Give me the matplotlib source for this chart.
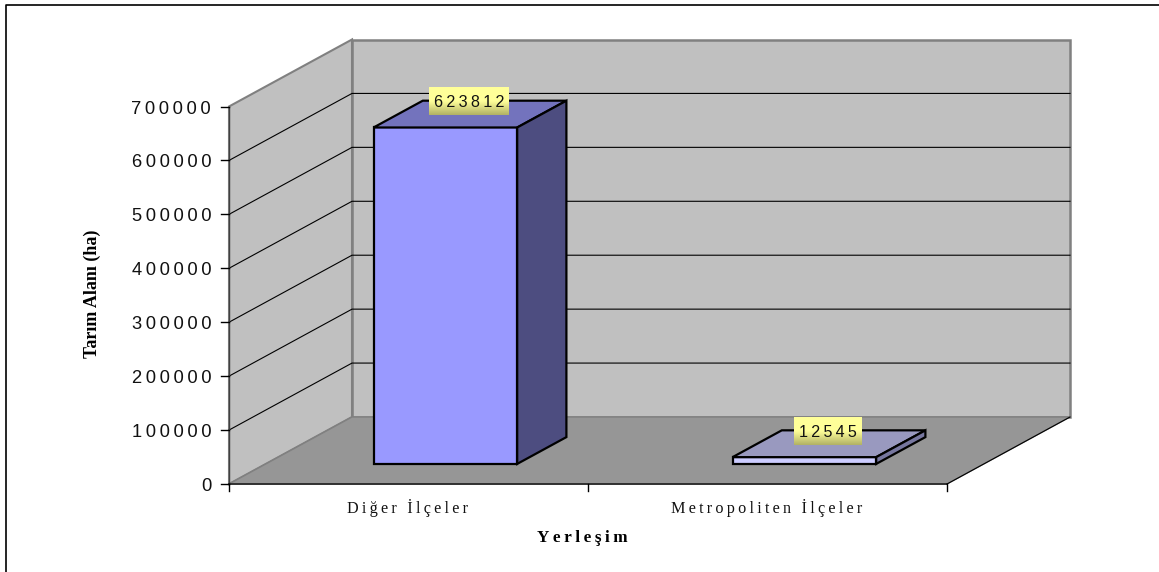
import numpy as np
import matplotlib
matplotlib.use('Agg')
import matplotlib.pyplot as plt
from matplotlib.colors import LinearSegmentedColormap
from matplotlib.patches import Polygon

categories = ['Diğer İlçeler', 'Metropoliten İlçeler']
values = [623812, 12545]
y_ticks = [0, 100000, 200000, 300000, 400000, 500000, 600000, 700000]

# oblique projection, all in image pixels
X0, Y0 = 229, 484
CAT_W = 359
Y_TOP = 377.5
DX, DY = 123, -67
YMAX = 700000
BAR_W = 0.4
D1, D2 = 0.3, 0.7


def proj(cat, val, depth):
    return (X0 + cat * CAT_W + depth * DX, Y0 - val / YMAX * Y_TOP + depth * DY)


def spaced(s, sp='\u2009'):
    return sp.join(s)


def face(ax, pts, color, ec='none', lw=0, z=2):
    ax.add_patch(Polygon(pts, closed=True, facecolor=color, edgecolor=ec, linewidth=lw,
                         joinstyle='miter', zorder=z))


fig = plt.figure(figsize=(11.59, 5.72), dpi=100)
ax = fig.add_axes([0, 0, 1, 1])
ax.set_xlim(0, 1159)
ax.set_ylim(572, 0)
ax.axis('off')

# outer frame, only left and top show
ax.plot([6, 6, 1159], [572, 5, 5], color='black', lw=1.2, zorder=1)

# walls and floor
face(ax, [proj(0, 0, 1), proj(2, 0, 1), proj(2, YMAX, 1), proj(0, YMAX, 1)], '#C0C0C0', '#808080', 1.8)
face(ax, [proj(0, 0, 0), proj(0, 0, 1), proj(0, YMAX, 1), proj(0, YMAX, 0)], '#C0C0C0', '#808080', 1.5)
face(ax, [proj(0, 0, 0), proj(2, 0, 0), proj(2, 0, 1), proj(0, 0, 1)], '#969696', '#808080', 1)

# gridlines on both walls
for t in y_ticks[1:-1]:
    pts = [proj(0, t, 0), proj(0, t, 1), proj(2, t, 1)]
    ax.plot([p[0] for p in pts], [p[1] for p in pts], color='black', lw=0.8, zorder=2)

# axes and ticks
ax.plot(*zip(proj(0, 0, 0), proj(0, YMAX, 0)), color='#404040', lw=1, zorder=3)
ax.plot(*zip(proj(0, 0, 0), proj(2, 0, 0)), color='#202020', lw=1.2, zorder=3)
ax.plot(*zip(proj(2, 0, 0), proj(2, 0, 1)), color='black', lw=0.8, zorder=3)
for t in y_ticks:
    x, y = proj(0, t, 0)
    ax.plot([x - 8, x], [y, y], color='black', lw=1, zorder=3)
    ax.text(211, y + 0.5, spaced(str(t)), ha='right', va='center_baseline',
            fontsize=13.2, family='Liberation Sans', color='#111111')
for c in range(3):
    x, y = proj(c, 0, 0)
    ax.plot([x, x], [y, y + 7], color='black', lw=1, zorder=3)

# bars
fills = [('#9999FF', '#7373BD', '#4D4D80'), ('#CCCCFF', '#9999BF', '#77779F')]
gold = LinearSegmentedColormap.from_list('gold', ['#FFFF99', '#FFFF99', '#B3B366'])
for i, v in enumerate(values):
    l = i + 0.5 - BAR_W / 2
    r = i + 0.5 + BAR_W / 2
    front, top, side = fills[i]
    face(ax, [proj(l, 0, D1), proj(r, 0, D1), proj(r, v, D1), proj(l, v, D1)], front, 'black', 1.6, 4)
    face(ax, [proj(l, v, D1), proj(r, v, D1), proj(r, v, D2), proj(l, v, D2)], top, 'black', 1.6, 4)
    face(ax, [proj(r, 0, D1), proj(r, 0, D2), proj(r, v, D2), proj(r, v, D1)], side, 'black', 1.6, 4)

    cx, cy = proj(i + 0.5, v, 0.5)
    cy -= 13
    cx -= 1
    label = spaced(str(v))
    half = 40 if len(str(v)) == 6 else 34
    ax.imshow(np.linspace(0, 1, 32).reshape(-1, 1), cmap=gold, aspect='auto', zorder=5,
              extent=(cx - half, cx + half, cy + 14, cy - 14))
    ax.text(cx, cy, label, ha='center', va='center_baseline', fontsize=11.6,
            family='Liberation Sans', color='#111111', zorder=6)

ax.set_xlim(0, 1159)
ax.set_ylim(572, 0)

# category labels and titles
for i, name in enumerate(categories):
    x, y = proj(i + 0.5, 0, 0)
    ax.text(x - 1, 508, spaced(name), ha='center', va='center', fontsize=11.6,
            family='Liberation Serif', color='#111111')
ax.text(582, 538, spaced('Yerleşim'), ha='center', va='center', fontsize=12.4,
        family='Liberation Serif', fontweight='bold', color='black')
ax.text(92, 294, 'Tarım Alanı (ha)', ha='center', va='center', rotation=90, fontsize=13,
        family='Liberation Serif', fontweight='bold', color='black')

fig.savefig('out.png', dpi=100)
